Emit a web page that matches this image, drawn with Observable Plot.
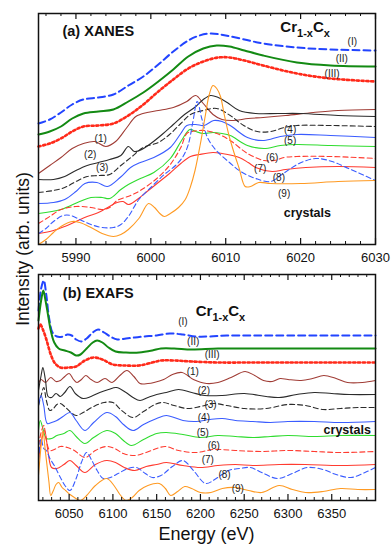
<!DOCTYPE html>
<html><head><meta charset="utf-8">
<script src="https://cdn.jsdelivr.net/npm/d3@7"></script>
<script src="https://cdn.jsdelivr.net/npm/@observablehq/plot@0.6"></script>
<style>
body{margin:0;background:#fff;}
#wrap{position:relative;width:391px;height:547px;overflow:hidden;font-family:"Liberation Sans",Arial,Helvetica,sans-serif;color:#111;}
#wrap svg{position:absolute;left:0;}
.ylab{position:absolute;left:-77px;top:239px;width:200px;height:20px;line-height:20px;text-align:center;font-size:17.5px;transform:rotate(-90deg);transform-origin:center;white-space:nowrap;}
.xlab{position:absolute;left:38px;top:525px;width:337px;line-height:18px;text-align:center;font-size:18px;}
</style></head><body><div id="wrap"></div>
<script>
// ---------- XANES (panel a): [energy eV, intensity arb. units] ----------
const xanesI = [[5985,121],[5986.5,125],[5988,132],[5989.5,140],[5991,145],[5993,147],[5995,150],[5997,159],[5999,168],[6001,180],[6003,193],[6005,204],[6006.5,209],[6008,211],[6010,209],[6012.5,205],[6015,201],[6019.5,197],[6024,195],[6030,194]];
const xanesII = [[5985,110],[5986.5,113],[5988,118],[5989.5,126],[5991,131],[5993,133],[5995,135],[5997,143],[5999,152],[6001,163],[6003,175],[6005,188],[6007,196],[6008.8,199],[6010.5,198],[6012.5,194],[6015,189],[6019.5,182],[6024,179],[6030,178]];
const xanesIII = [[5985,98],[5986.5,101],[5988,106],[5989.5,113],[5991,118],[5993,119],[5995,121],[5997,129],[5999,140],[6001,153],[6003,165],[6005,176],[6007,183],[6009,187],[6010.5,187],[6012.5,184],[6015,179],[6019.5,171],[6024,166],[6030,163]];
const xanes1 = [[5985,71],[5986.5,79],[5988,87],[5989.5,96],[5991,101],[5992.5,103],[5994,98],[5995.3,103],[5996.8,117],[5998,128],[5999.5,132],[6001,134],[6003,137],[6004.8,143],[6006,149],[6007,141],[6008.3,130],[6009.5,125],[6011,124],[6013,126],[6015,127],[6018,129],[6021.7,132],[6025,134],[6030,135]];
const xanes2 = [[5985,65],[5987,65],[5988.5,68],[5990,74],[5991.5,79],[5993,82],[5994.5,85],[5996,89],[5997,98],[5997.8,93],[5998.8,95],[6000,101],[6001.5,110],[6003,120],[6004.5,130],[6006,138],[6007,145],[6008,149],[6009,147],[6010.2,142],[6011.8,134],[6014,131],[6017,131],[6020,131],[6025,129],[6030,128]];
const xanes3 = [[5985,52],[5987,54],[5988.5,57],[5990,63],[5991.5,68],[5993,69],[5994.5,70],[5996,79],[5997.5,88],[5999,97],[6001,102],[6002.5,110],[6004,121],[6005.3,130],[6007,134],[6008.8,136],[6010.6,129],[6012.4,119],[6014.2,113],[6016,113],[6017.8,117],[6019.5,119],[6024,119],[6030,118]];
const xanes4 = [[5985,41],[5987,42],[5988.5,45],[5990,53],[5991.2,61],[5992.8,62],[5994.2,58],[5995.9,67],[5997.3,77],[5998.6,82],[6000.4,87],[6002.6,97],[6004,111],[6004.8,119],[6006,120],[6007.1,119],[6008.4,124],[6009.5,123],[6010.6,119],[6012.9,107],[6015.1,104],[6017.3,108],[6019.5,110],[6024,109],[6030,107]];
const xanes5 = [[5985,31],[5988,35],[5990.5,43],[5992,47],[5993.5,47],[5994.5,46],[5996,55],[5997,60],[5998.6,66],[6000.4,72],[6002.6,86],[6004.1,104],[6005.2,115],[6006,113],[6007,111],[6008.3,112],[6009.5,111],[6010.6,109],[6012.9,99],[6015.1,96],[6017.3,99],[6019.5,100],[6024,99],[6030,98]];
const xanes6 = [[5985,21],[5986.5,28],[5988,35],[5990,38],[5992,37],[5993.5,35],[5994.5,37],[5995.5,44],[5997.3,49],[5998.6,54],[6000.8,66],[6002.6,80],[6004,97],[6004.8,111],[6005.5,113],[6007.1,114],[6008.8,111],[6010.6,104],[6012.9,91],[6015.1,84],[6016.5,84],[6017.8,87],[6019.5,88],[6024,88],[6030,86]];
const xanes7 = [[5985,11],[5987,14],[5988.5,18],[5990,23],[5991.5,28],[5993,32],[5994,36],[5995.5,42],[5996.3,43],[5997,40],[5998,44],[5999.5,53],[6001,62],[6002.5,71],[6004,81],[6005.3,88],[6006.5,90],[6008.3,92],[6009.5,91],[6011.8,87],[6013,82],[6014,77],[6016.2,73],[6018,75],[6020.7,77],[6025,78],[6030,77]];
const xanes8 = [[5985,11],[5986,16],[5987,23],[5988.3,29],[5989.3,29],[5990.5,25],[5992,20],[5993.5,17],[5995,17],[5996,20],[5997,28],[5998.4,45],[6000,57],[6001.8,70],[6003.3,79],[6004.3,88],[6005,100],[6005.6,122],[6006.2,143],[6006.8,126],[6007.5,108],[6008.2,99],[6009,92],[6010.5,82],[6012,73],[6014,66],[6016,63],[6017.5,70],[6019.8,81],[6022,86],[6024.2,83],[6026.4,76],[6030,64]];
const xanes9 = [[5985,0],[5986,5],[5987,12],[5988,18],[5989.5,23],[5990.5,22],[5992,17],[5993.5,11],[5995,8],[5996,10],[5997,15],[5998.4,26],[5999.7,41],[6000.5,37],[6001.2,31],[6001.8,28],[6002.6,31],[6003.7,37],[6004.6,45],[6005.3,58],[6005.9,74],[6006.6,100],[6007.3,130],[6007.8,150],[6008.3,159],[6008.8,156],[6009.3,148],[6009.8,130],[6010.4,110],[6011.1,92],[6011.8,76],[6012.6,58],[6013.3,58],[6014.4,62],[6016,61],[6020,61],[6025,63],[6030,64]];

// ---------- EXAFS (panel b) ----------
const exafsI = [[6015,190],[6018,212],[6021,220],[6024,205],[6027,183],[6031,168],[6036,164],[6043,164],[6048,166],[6053,165],[6058,161],[6064,159],[6070,162],[6077,168],[6083,171],[6090,168],[6097,164],[6105,161],[6115,162],[6125,163],[6135,164],[6150,165],[6165,167],[6180,166],[6195,164],[6210,164],[6230,165],[6260,165],[6300,165],[6350,165],[6400,165]];
const exafsII = [[6015,180],[6018,200],[6020.5,210],[6023,200],[6026,185],[6029,170],[6033,158],[6038,152],[6045,150],[6052,148],[6058,145],[6063,146],[6070,152],[6077,158],[6082,160],[6088,158],[6095,153],[6103,149],[6115,148],[6130,148],[6145,150],[6155,152],[6170,152],[6190,151],[6220,152],[6260,152],[6300,152],[6350,152],[6400,152]];
const exafsIII = [[6015,172],[6017,176],[6020,171],[6024,161],[6029,146],[6034,137],[6040,133],[6050,133],[6058,134],[6068,140],[6078,143],[6088,141],[6100,136],[6115,135],[6130,135],[6145,138],[6155,140],[6170,140],[6190,139],[6220,138],[6260,138],[6300,138],[6350,138],[6400,138]];
const exafs1 = [[6015,117],[6018,121],[6023,118],[6029,123],[6035,119],[6040,120],[6045,124],[6050,127],[6055,121],[6059,118],[6064,121],[6069,125],[6075,121],[6082,118],[6091,122],[6099,118],[6108,125],[6116,130],[6124,124],[6131,117],[6140,117],[6147,118],[6158,121],[6168,126],[6179,128],[6192,121],[6207,117],[6220,118],[6235,123],[6251,129],[6262,125],[6272,120],[6282,119],[6291,122],[6300,121],[6315,120],[6328,122],[6341,125],[6355,122],[6368,118],[6385,118],[6400,120]];
const exafs2 = [[6015,110],[6018,125],[6020,133],[6023,120],[6026,104],[6030,103],[6035,107],[6040,104],[6045,108],[6051,114],[6057,107],[6066,102],[6075,104],[6085,108],[6095,111],[6104,113],[6115,108],[6123,103],[6131,100],[6140,103],[6150,106],[6161,108],[6175,111],[6190,108],[6205,105],[6225,105],[6250,107],[6275,104],[6290,103],[6310,106],[6330,108],[6350,107],[6370,106],[6400,106]];
const exafs3 = [[6015,95],[6018,105],[6021,113],[6024,100],[6028,90],[6032,92],[6036,96],[6040,97],[6046,93],[6052,88],[6058,85],[6066,88],[6078,94],[6090,98],[6100,98],[6110,90],[6123,83],[6135,89],[6148,96],[6157,98],[6170,95],[6185,92],[6200,94],[6215,97],[6230,95],[6250,92],[6275,92],[6300,96],[6320,95],[6340,91],[6360,92],[6380,93],[6400,93]];
const exafs4 = [[6015,95],[6018,105],[6021,95],[6025,77],[6030,78],[6036,80],[6043,84],[6051,88],[6058,80],[6068,70],[6078,78],[6093,88],[6103,84],[6112,76],[6123,70],[6135,76],[6150,82],[6161,85],[6180,80],[6195,79],[6210,81],[6225,82],[6240,80],[6260,79],[6280,78],[6300,79],[6330,79],[6360,78],[6400,79]];
const exafs5 = [[6015,70],[6017,80],[6020,72],[6024,62],[6030,62],[6036,65],[6044,67],[6051,70],[6058,64],[6068,57],[6078,63],[6093,70],[6103,67],[6112,60],[6121,55],[6135,61],[6150,67],[6161,68],[6180,66],[6200,63],[6220,65],[6240,64],[6260,63],[6280,64],[6300,65],[6330,64],[6360,65],[6400,65]];
const exafs6 = [[6015,55],[6018,68],[6021,75],[6024,60],[6028,50],[6033,51],[6040,54],[6048,53],[6056,50],[6068,43],[6080,50],[6092,54],[6102,52],[6112,47],[6125,45],[6138,48],[6150,52],[6160,54],[6175,50],[6195,48],[6215,51],[6240,50],[6270,49],[6300,50],[6330,49],[6360,48],[6400,49]];
const exafs7 = [[6015,40],[6018,58],[6022,70],[6026,48],[6030,33],[6036,32],[6044,36],[6051,40],[6058,35],[6068,28],[6080,36],[6093,40],[6103,38],[6113,33],[6125,30],[6138,34],[6150,36],[6161,38],[6180,35],[6200,33],[6220,35],[6240,36],[6260,35],[6290,36],[6320,36],[6360,35],[6400,36]];
const exafs8 = [[6015,40],[6018,62],[6021,52],[6024,50],[6028,42],[6033,35],[6040,23],[6046,14],[6051,10],[6058,22],[6064,38],[6070,48],[6076,40],[6082,30],[6089,22],[6097,23],[6106,27],[6117,32],[6127,33],[6137,27],[6145,23],[6155,25],[6168,34],[6180,40],[6192,30],[6206,17],[6218,22],[6232,30],[6245,32],[6257,33],[6270,28],[6288,22],[6305,27],[6322,33],[6340,31],[6355,26],[6372,23],[6388,28],[6400,33]];
const exafs9 = [[6015,25],[6018,55],[6020,70],[6023,48],[6025,33],[6027,18],[6029,5],[6032,10],[6035,16],[6038,18],[6042,13],[6046,10],[6051,6],[6056,3],[6063,0],[6070,5],[6080,15],[6093,22],[6102,14],[6108,6],[6115,0],[6122,3],[6130,10],[6140,15],[6153,17],[6160,12],[6166,5],[6174,9],[6182,14],[6190,12],[6200,8],[6212,8],[6225,12],[6240,13],[6255,10],[6270,8],[6290,15],[6305,11],[6320,8],[6340,9],[6360,12],[6380,11],[6400,11]];

// ---------- ticks ----------
const xanesMajor = [5990, 6000, 6010, 6020, 6030];
const xanesMinor = d3.range(5986, 6030, 2).filter(v => v % 10 !== 0);
const exafsMajor = [6050, 6100, 6150, 6200, 6250, 6300, 6350];
const exafsMinor = d3.range(6020, 6400, 10).filter(v => v % 50 !== 0);

// ---------- annotations ----------
const xanesLabels = [
  {t:"(I)", x:6026.9, y:202.7}, {t:"(II)", x:6025.5, y:186}, {t:"(III)", x:6024.2, y:171},
  {t:"(1)", x:5993.3, y:106}, {t:"(2)", x:5991.9, y:89.3}, {t:"(3)", x:5993.5, y:77},
  {t:"(4)", x:6018.6, y:114.3}, {t:"(5)", x:6018.6, y:103.7}, {t:"(6)", x:6016.2, y:87},
  {t:"(7)", x:6014.6, y:76}, {t:"(8)", x:6017.1, y:66.7}, {t:"(9)", x:6017.8, y:51}
];
const exafsLabels = [
  {t:"(I)", x:6180, y:178.7}, {t:"(II)", x:6191.7, y:158.7}, {t:"(III)", x:6213.4, y:145.7},
  {t:"(1)", x:6191.3, y:129}, {t:"(2)", x:6203.9, y:109.7}, {t:"(3)", x:6211.5, y:95.7},
  {t:"(4)", x:6203.9, y:82.3}, {t:"(5)", x:6202.7, y:67.3}, {t:"(6)", x:6215.3, y:55},
  {t:"(7)", x:6208.4, y:40.7}, {t:"(8)", x:6227.5, y:25.7}, {t:"(9)", x:6242.7, y:12}
];
const xanesTitles = [{t:"(a) XANES", x:5988.2, y:212.7, a:"start", s:14.5}, {t:"Cr1-xCx", x:6020.6, y:217.7, a:"middle", s:15}, {t:"crystals", x:6020.9, y:32, a:"middle", s:12.5}];
const exafsTitles = [{t:"(b) EXAFS", x:6042.8, y:206.7, a:"start", s:14.5}, {t:"Cr1-xCx", x:6222.9, y:189, a:"middle", s:15}, {t:"crystals", x:6367.7, y:70.7, a:"middle", s:12.5}];

// ---------- styles ----------
const S = {
  I:  {stroke:"#2244ff", strokeWidth:2, strokeDasharray:"7,4"},
  II: {stroke:"#138a13", strokeWidth:2},
  III:{stroke:"#ff2a1a", strokeWidth:2.6, strokeDasharray:"2.2,2.6"},
  c1: {stroke:"#a03c35", strokeWidth:1.1},
  c2: {stroke:"#2b2b2b", strokeWidth:1.1},
  c3: {stroke:"#2b2b2b", strokeWidth:1.1, strokeDasharray:"5,3"},
  c4: {stroke:"#3a5cff", strokeWidth:1.1},
  c5: {stroke:"#2fdc2f", strokeWidth:1.1},
  c6: {stroke:"#ff3b30", strokeWidth:1.1, strokeDasharray:"5,3"},
  c7: {stroke:"#ff3b30", strokeWidth:1.1},
  c8: {stroke:"#3a5cff", strokeWidth:1.1, strokeDasharray:"5,3"},
  c9: {stroke:"#ff9a22", strokeWidth:1.1}
};
const keys = ["I","II","III","c1","c2","c3","c4","c5","c6","c7","c8","c9"];
const xanesSeries = [xanesI, xanesII, xanesIII, xanes1, xanes2, xanes3, xanes4, xanes5, xanes6, xanes7, xanes8, xanes9];
const exafsSeries = [exafsI, exafsII, exafsIII, exafs1, exafs2, exafs3, exafs4, exafs5, exafs6, exafs7, exafs8, exafs9];

function panel({series, domain, ymax, major, minor, labels, titles, height, marginTop, marginBottom}) {
  const lines = series.map((pts, i) => Plot.line(pts, {x: d => d[0], y: d => d[1], curve: "catmull-rom", ...S[keys[i]]}));
  const tickMarks = [
    Plot.ruleX(minor, {x: d => d, y1: 0, y2: 3, stroke: "#111", strokeWidth: 1}),
    Plot.ruleX(minor, {x: d => d, y1: ymax - 3, y2: ymax, stroke: "#111", strokeWidth: 1}),
    Plot.ruleX(major, {x: d => d, y1: 0, y2: 6, stroke: "#111", strokeWidth: 1.2}),
    Plot.ruleX(major, {x: d => d, y1: ymax - 6, y2: ymax, stroke: "#111", strokeWidth: 1.2})
  ];
  const svg = Plot.plot({
    width: 391, height, marginLeft: 38, marginRight: 16, marginTop, marginBottom,
    style: {fontFamily: "'Liberation Sans', Arial, Helvetica, sans-serif", background: "transparent", overflow: "visible"},
    x: {domain, label: null},
    y: {domain: [0, ymax], axis: null},
    marks: [
      Plot.axisX({ticks: major, tickSize: 0, tickPadding: 8, tickFormat: d => String(d), label: null, fontSize: 13, fill: "#111"}),
      ...lines,
      ...tickMarks,
      Plot.frame({stroke: "#111", strokeWidth: 1.5}),
      Plot.text(labels, {x: "x", y: "y", text: "t", fontSize: 10, fill: "#222"}),
      Plot.text(titles, {filter: d => d.a === "start", x: "x", y: "y", text: "t", textAnchor: "start", fontSize: d => d.s, fontWeight: "bold", fill: "#111"}),
      Plot.text(titles, {filter: d => d.a === "middle", x: "x", y: "y", text: "t", textAnchor: "middle", fontSize: d => d.s, fontWeight: "bold", fill: "#111"})
    ]
  });
  // subscripts for the formula label
  svg.querySelectorAll("text").forEach(t => {
    if (t.textContent === "Cr1-xCx") {
      t.textContent = "";
      const ns = "http://www.w3.org/2000/svg";
      const parts = [["Cr", 0, null], ["1-x", 5, "11px"], ["C", -5, null], ["x", 5, "11px"]];
      parts.forEach(([s, dy, fs]) => {
        const ts = document.createElementNS(ns, "tspan");
        ts.textContent = s;
        if (dy) ts.setAttribute("dy", dy);
        if (fs) ts.setAttribute("font-size", fs);
        t.appendChild(ts);
      });
    }
  });
  return svg;
}

const wrap = document.getElementById("wrap");
const a = panel({series: xanesSeries, domain: [5985, 6030], ymax: 231, major: xanesMajor, minor: xanesMinor, labels: xanesLabels, titles: xanesTitles, height: 270, marginTop: 13, marginBottom: 26});
a.style.top = "0px";
const b = panel({series: exafsSeries, domain: [6015, 6400], ymax: 226, major: exafsMajor, minor: exafsMinor, labels: exafsLabels, titles: exafsTitles, height: 277, marginTop: 4, marginBottom: 47});
b.style.top = "270px";
wrap.appendChild(a);
wrap.appendChild(b);
const yl = document.createElement("div"); yl.className = "ylab"; yl.textContent = "Intensity (arb. units)"; wrap.appendChild(yl);
const xl = document.createElement("div"); xl.className = "xlab"; xl.textContent = "Energy (eV)"; wrap.appendChild(xl);
</script></body></html>
